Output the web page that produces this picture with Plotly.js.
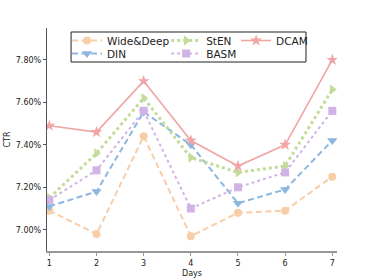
<!DOCTYPE html>
<html><head><meta charset="utf-8">
<script src="https://cdn.plot.ly/plotly-3.0.1.min.js"></script>
<style>html,body{margin:0;padding:0;background:#fff}#c{width:374px;height:280px}</style>
</head><body><div id="c"></div>
<script>
const days = [1, 2, 3, 4, 5, 6, 7];
const wideDeep = [7.09, 6.98, 7.44, 6.97, 7.08, 7.09, 7.25];
const din = [7.11, 7.18, 7.555, 7.40, 7.125, 7.19, 7.42];
const sten = [7.15, 7.36, 7.62, 7.34, 7.27, 7.30, 7.66];
const basm = [7.14, 7.28, 7.56, 7.10, 7.20, 7.27, 7.56];
const dcam = [7.49, 7.46, 7.70, 7.42, 7.30, 7.40, 7.80];
const yTicks = [7.0, 7.2, 7.4, 7.6, 7.8];
const yTickText = ['7.00%', '7.20%', '7.40%', '7.60%', '7.80%'];

function tr(name, y, color, dash, width, symbol, size, leg) {
  return {x: days, y: y, name: name, type: 'scatter', mode: 'lines+markers',
    legend: leg,
    line: {color: color, dash: dash, width: width},
    marker: {color: color, symbol: symbol, size: size}};
}
const traces = [
  tr('Wide&Deep', wideDeep, '#f9cda8', '6px,3.5px', 2, 'circle', 8, 'legend'),
  tr('DIN', din, '#8eb7e0', '6px,3.5px', 2, 'triangle-down', 9, 'legend2'),
  tr('StEN', sten, '#c4dc9a', 'dot', 3, 'triangle-right', 9, 'legend3'),
  tr('BASM', basm, '#d2b3e6', 'dot', 2, 'square', 8, 'legend4'),
  tr('DCAM', dcam, '#f0a6a6', 'solid', 1.6, 'star', 9, 'legend5')
];
const legBase = {xanchor: 'left', yanchor: 'top', orientation: 'v',
  borderwidth: 0, bgcolor: 'rgba(0,0,0,0)', font: {size: 10.5, color: '#222'},
  itemwidth: 30, tracegroupgap: 0};
const r1 = 1.009, r2 = 0.951, c1 = 0.069, c2 = 0.411, c3 = 0.652;
const layout = {
  width: 374, height: 280,
  margin: {l: 47, r: 37, t: 28, b: 29},
  paper_bgcolor: '#fff', plot_bgcolor: '#fff',
  font: {family: 'DejaVu Sans', size: 8, color: '#222'},
  showlegend: true,
  legend: Object.assign({}, legBase, {x: c1, y: r1}),
  legend2: Object.assign({}, legBase, {x: c1, y: r2}),
  legend3: Object.assign({}, legBase, {x: c2, y: r1}),
  legend4: Object.assign({}, legBase, {x: c2, y: r2}),
  legend5: Object.assign({}, legBase, {x: c3, y: r1}),
  shapes: [{type: 'rect', xref: 'paper', yref: 'paper', x0: 0.083, x1: 0.893,
    y0: 0.8475, y1: 0.982, line: {color: '#222', width: 1}, fillcolor: 'rgba(255,255,255,0.9)', layer: 'above'}],
  xaxis: {range: [0.95, 7.1], tickvals: days, showgrid: false, zeroline: false,
    showline: true, linecolor: '#999', linewidth: 2, ticks: 'outside', ticklen: 3,
    tickcolor: '#999', title: {text: 'Days', font: {size: 8}, standoff: 4}},
  yaxis: {range: [6.90, 7.95], tickvals: yTicks, ticktext: yTickText, showgrid: false,
    zeroline: false, showline: true, linecolor: '#555', linewidth: 1.2, ticks: 'outside',
    ticklen: 3, tickcolor: '#555', title: {text: 'CTR', font: {size: 8}, standoff: 4}}
};
Plotly.newPlot('c', traces, layout, {staticPlot: true});
</script></body></html>
